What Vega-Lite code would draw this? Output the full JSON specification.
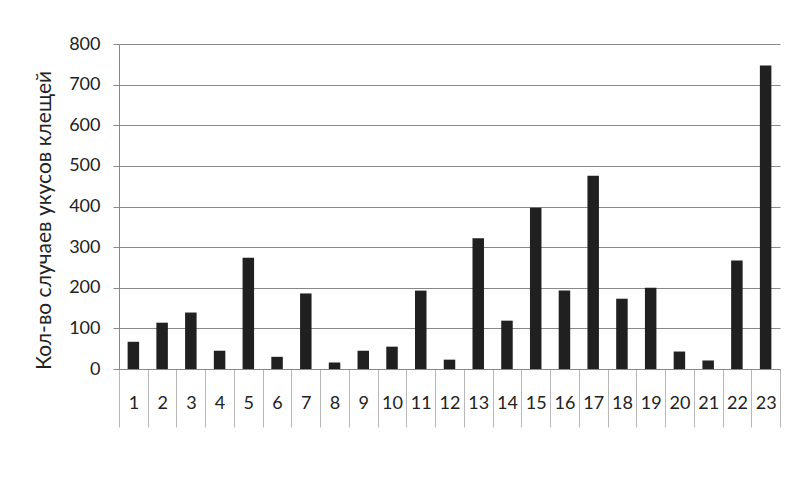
{
  "$schema": "https://vega.github.io/schema/vega-lite/v6.json",
  "autosize": "none",
  "width": 661,
  "height": 325,
  "padding": {"left": 119, "top": 44, "right": 25, "bottom": 113},
  "background": "white",
  "config": {
    "view": {"stroke": null},
    "font": "Lato"
  },
  "data": {
    "values": [
      {"n": 1, "v": 67}, {"n": 2, "v": 114}, {"n": 3, "v": 139}, {"n": 4, "v": 45},
      {"n": 5, "v": 274}, {"n": 6, "v": 30}, {"n": 7, "v": 186}, {"n": 8, "v": 16},
      {"n": 9, "v": 45}, {"n": 10, "v": 55}, {"n": 11, "v": 193}, {"n": 12, "v": 23},
      {"n": 13, "v": 322}, {"n": 14, "v": 119}, {"n": 15, "v": 397}, {"n": 16, "v": 193},
      {"n": 17, "v": 476}, {"n": 18, "v": 173}, {"n": 19, "v": 200}, {"n": 20, "v": 43},
      {"n": 21, "v": 21}, {"n": 22, "v": 267}, {"n": 23, "v": 747}
    ]
  },
  "mark": {"type": "bar", "color": "#202020", "width": {"band": 0.4}},
  "encoding": {
    "x": {
      "field": "n",
      "type": "ordinal",
      "scale": {"paddingInner": 0, "paddingOuter": 0},
      "axis": {
        "title": null,
        "labelAngle": 0,
        "labelFont": "Lato",
        "labelFontSize": 18,
        "labelColor": "#222222",
        "labelPadding": -24,
        "labelBaseline": "middle",
        "tickBand": "extent",
        "tickSize": 58,
        "tickColor": "#b8b8b8",
        "tickWidth": 1,
        "domainColor": "#888888",
        "domainWidth": 1,
        "grid": false
      }
    },
    "y": {
      "field": "v",
      "type": "quantitative",
      "scale": {"domain": [0, 800], "nice": false},
      "axis": {
        "values": [0, 100, 200, 300, 400, 500, 600, 700, 800],
        "title": "Кол-во случаев укусов клещей",
        "titleFont": "Lato",
        "titleFontSize": 21,
        "titleFontWeight": "normal",
        "titleColor": "#222222",
        "titleAngle": -90,
        "titleAlign": "center",
        "titleBaseline": "middle",
        "titleX": -75,
        "titleY": 176,
        "labelFont": "Lato",
        "labelFontSize": 18,
        "labelColor": "#222222",
        "labelPadding": 13,
        "tickSize": 6,
        "tickColor": "#888888",
        "domainColor": "#888888",
        "gridColor": "#888888",
        "gridWidth": 1,
        "grid": true
      }
    }
  }
}
